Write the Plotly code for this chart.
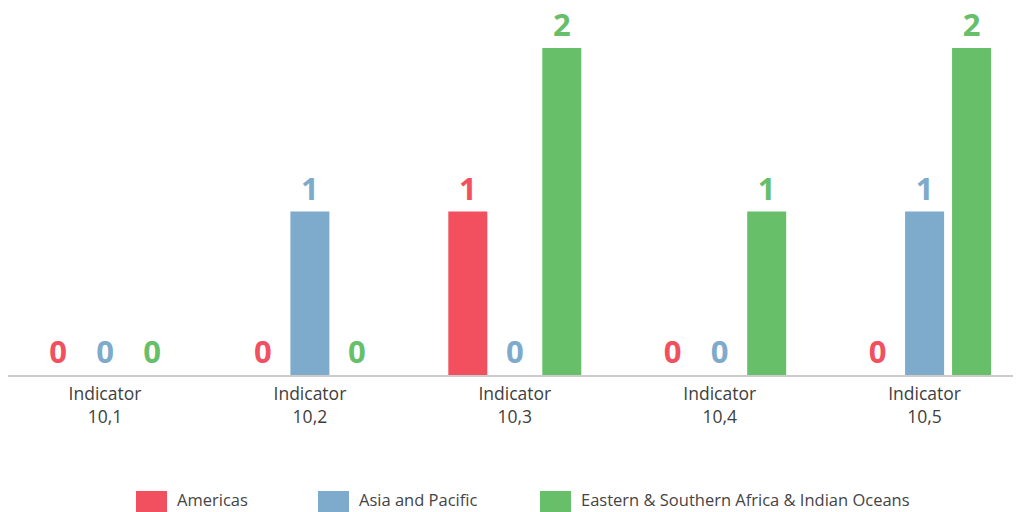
import plotly.graph_objects as go

categories = ["Indicator<br>10,1", "Indicator<br>10,2", "Indicator<br>10,3", "Indicator<br>10,4", "Indicator<br>10,5"]
series_names = ["Americas", "Asia and Pacific", "Eastern & Southern Africa & Indian Oceans"]
americas = [0, 0, 1, 0, 0]
asia_pacific = [0, 1, 0, 0, 1]
esa_io = [0, 0, 2, 1, 2]
colors = ["#F2505F", "#7EAACB", "#67BF6A"]

# page body adds an 8px offset, so the figure is sized to fill the rest of the window
W, H = 1013, 504
ML, MR, MT, MB = 0, 0, 0, 137
PH = H - MB - MT

fig = go.Figure()
for name, vals, col in zip(series_names, [americas, asia_pacific, esa_io], colors):
    fig.add_trace(go.Bar(
        x=categories, y=vals, name=name,
        marker=dict(color=col, line=dict(width=0)),
        text=[str(v) for v in vals], textposition="outside",
        textfont=dict(family="Open Sans", size=31, color=col, weight="bold"),
        cliponaxis=False, showlegend=False,
    ))

# custom legend with large swatches in the bottom margin
legend_left_px = [128, 310, 532]
shapes = []
annotations = []
pw = W - ML - MR
for name, col, lx in zip(series_names, colors, legend_left_px):
    shapes.append(dict(type="rect", xref="paper", yref="paper",
                       x0=(lx - ML) / pw, x1=(lx + 31 - ML) / pw,
                       y0=-(H - (H - MB)) / PH, y1=-(483 - (H - MB)) / PH,
                       fillcolor=col, line=dict(width=0), layer="above"))
    annotations.append(dict(xref="paper", yref="paper", x=(lx + 40 - ML) / pw,
                            y=-(H - (H - MB)) / PH, text=name,
                            showarrow=False, xanchor="left", yanchor="bottom",
                            borderpad=0,
                            font=dict(family="Open Sans", size=16.5, color="#444444")))

fig.update_layout(
    width=W, height=H,
    margin=dict(l=ML, r=MR, t=MT, b=MB, autoexpand=False),
    plot_bgcolor="white", paper_bgcolor="white",
    barmode="group", bargap=0.312, bargroupgap=0.17,
    font=dict(family="Open Sans", size=16, color="#444444"),
    showlegend=False,
    shapes=shapes, annotations=annotations,
)
fig.update_xaxes(showline=True, linecolor="#CCCCCC", linewidth=1.5, ticks="",
                 tickfont=dict(size=17.5, color="#404040"), showgrid=False,
                 range=[-0.4734, 4.4705], ticklabelstandoff=2, automargin=False)
fig.update_yaxes(range=[0, 2.245], visible=False, showgrid=False, zeroline=False)

fig.write_html("out.html")
